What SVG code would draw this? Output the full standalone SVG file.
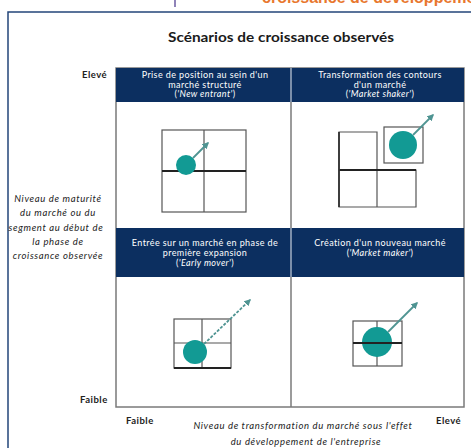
<svg xmlns="http://www.w3.org/2000/svg" width="471" height="448" viewBox="0 0 471 448">
<defs>
<style>
.hdr{fill:#0c2f60}
.ht{fill:#fff;font-family:Lato,"Open Sans",sans-serif;font-size:9px;letter-spacing:0.4px;text-anchor:middle}
.lbl{fill:#222;font-family:Lato,"Liberation Sans",sans-serif;font-weight:bold;font-size:9.5px;letter-spacing:0.5px}
.ax{fill:#222;font-family:Lato,"Liberation Sans",sans-serif;font-style:italic;font-size:9.5px;letter-spacing:0.65px;text-anchor:middle}
.grid{fill:none;stroke:#7a7a7a;stroke-width:1.5}
.cell{fill:none;stroke:#555;stroke-width:1.2}
.thick{stroke:#222;stroke-width:2}
.dot{fill:#129a94}
.arr{fill:none;stroke:#4f9492;stroke-width:1.8}
</style>
<marker id="ah" viewBox="0 0 10 10" refX="8" refY="5" markerWidth="7" markerHeight="7" markerUnits="userSpaceOnUse" orient="auto">
<path d="M0,0 L10,5 L0,10 z" fill="#4f9492"/>
</marker>
</defs>
<rect width="471" height="448" fill="#fff"/>
<line x1="175" y1="0" x2="175" y2="7" stroke="#6a5aa0" stroke-width="1.5"/>
<text x="262" y="3" font-family="'Liberation Sans',sans-serif" font-weight="bold" font-size="16" fill="#e8772e">croissance de développement</text>
<rect x="8" y="12" width="470" height="450" fill="none" stroke="#23457a" stroke-width="1.5"/>
<text x="281" y="42" text-anchor="middle" font-family="Lato,'Liberation Sans',sans-serif" font-weight="bold" font-size="14" fill="#1a1a1a" textLength="226" lengthAdjust="spacingAndGlyphs">Scénarios de croissance observés</text>

<g id="axes">
<text class="lbl" x="82" y="78">Elevé</text>
<text class="lbl" x="80" y="403">Faible</text>
<text class="lbl" x="126" y="424">Faible</text>
<text class="lbl" x="436" y="424">Elevé</text>
<text class="ax" x="58" y="202">Niveau de maturité</text>
<text class="ax" x="58" y="216">du marché ou du</text>
<text class="ax" x="56" y="231">segment au début de</text>
<text class="ax" x="58" y="245">la phase de</text>
<text class="ax" x="58" y="259">croissance observée</text>
<text class="ax" x="303" y="429">Niveau de transformation du marché sous l'effet</text>
<text class="ax" x="306" y="445">du développement de l'entreprise</text>
</g>

<g id="grid">
<rect class="grid" x="116" y="68" width="348" height="339"/>
<line class="grid" x1="291" y1="68" x2="291" y2="407"/>
</g>

<g id="new-entrant">
<rect class="hdr" x="116" y="68" width="175" height="34"/>
<text class="ht" x="205" y="78">Prise de position au sein d'un</text>
<text class="ht" x="205" y="87.5">marché structuré</text>
<text class="ht" x="205" y="97">(<tspan font-style="italic">'New entrant'</tspan>)</text>
<rect class="cell" x="162" y="130" width="84" height="82"/>
<line class="cell" x1="204" y1="130" x2="204" y2="212"/>
<line class="cell thick" x1="162" y1="171" x2="246" y2="171"/>
<circle class="dot" cx="186" cy="165" r="10"/>
</g>

<g id="market-shaker">
<rect class="hdr" x="291" y="68" width="173" height="34"/>
<text class="ht" x="380" y="78">Transformation des contours</text>
<text class="ht" x="380" y="87.5">d'un marché</text>
<text class="ht" x="380" y="97">(<tspan font-style="italic">'Market shaker'</tspan>)</text>
<path class="cell" d="M339,170 V132 H377 V207 M339,170 V207 H416 V170 H339"/>
<line class="cell thick" x1="339" y1="170" x2="416" y2="170"/>
<line x1="339" y1="132" x2="339" y2="207" stroke="#333" stroke-width="1.8"/>
<rect class="cell" x="384" y="127" width="39" height="36"/>
<circle class="dot" cx="403" cy="145" r="14"/>
</g>

<g id="early-mover">
<rect class="hdr" x="116" y="228" width="175" height="49"/>
<text class="ht" x="205" y="246">Entrée sur un marché en phase de</text>
<text class="ht" x="205" y="256">première expansion</text>
<text class="ht" x="205" y="265.5">(<tspan font-style="italic">'Early mover'</tspan>)</text>
<rect class="cell" x="174" y="319" width="57" height="49"/>
<line class="cell" x1="202" y1="319" x2="202" y2="368"/>
<line class="cell" x1="174" y1="343" x2="231" y2="343"/>
<line x1="174" y1="368" x2="231" y2="368" stroke="#222" stroke-width="2"/>
<circle class="dot" cx="195" cy="352" r="12"/>
</g>

<g id="market-maker">
<rect class="hdr" x="291" y="228" width="173" height="49"/>
<text class="ht" x="380" y="246">Création d'un nouveau marché</text>
<text class="ht" x="380" y="256">(<tspan font-style="italic">'Market maker'</tspan>)</text>
<rect class="cell" x="353" y="321" width="49" height="45"/>
<line class="cell" x1="377" y1="321" x2="377" y2="366"/>
<circle class="dot" cx="377" cy="342" r="15"/>
<line class="cell thick" x1="353" y1="343" x2="402" y2="343"/>
</g>

<line x1="291" y1="68" x2="291" y2="102" stroke="#c8d0dc" stroke-width="1.2"/>
<line x1="291" y1="228" x2="291" y2="277" stroke="#c8d0dc" stroke-width="1.2"/>

<g id="connectors">
<line class="arr" x1="193" y1="158" x2="208" y2="143" marker-end="url(#ah)"/>
<line class="arr" x1="413" y1="135" x2="433" y2="115" stroke-width="1.2" marker-end="url(#ah)"/>
<line class="arr" x1="204" y1="344" x2="250" y2="300" stroke-width="1.3" stroke-dasharray="3 1.5" marker-end="url(#ah)"/>
<line class="arr" x1="388" y1="332" x2="417" y2="303" stroke-width="1.3" marker-end="url(#ah)"/>
</g>
</svg>
